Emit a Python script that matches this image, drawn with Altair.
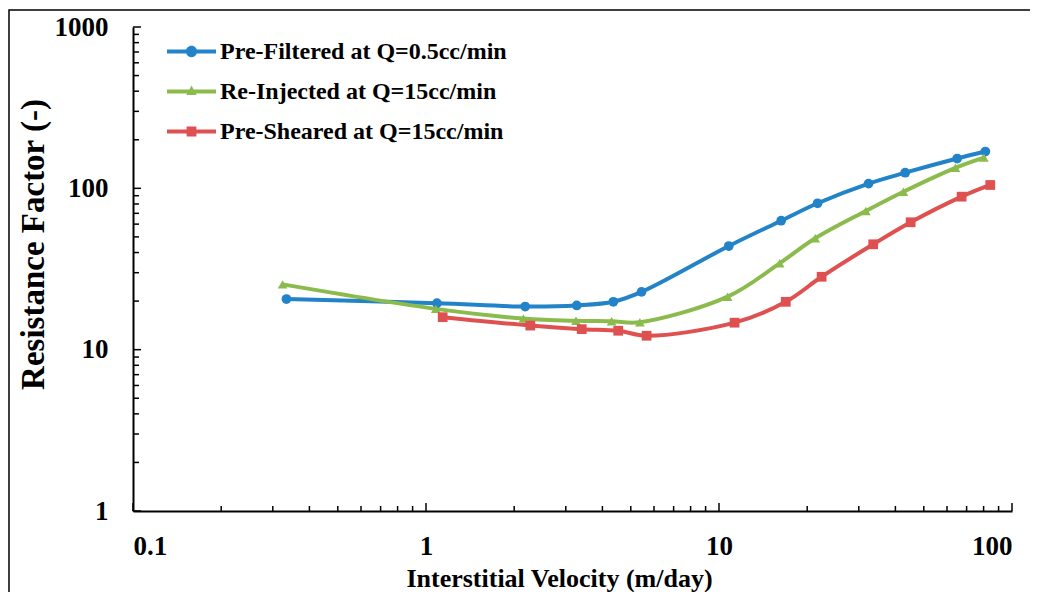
import altair as alt
import pandas as pd

# ---- data ----
series_names = ["Pre-Filtered at Q=0.5cc/min", "Re-Injected at Q=15cc/min", "Pre-Sheared at Q=15cc/min"]
series_colors = ["#2283C8", "#8CBB4D", "#DF5050"]

pf_x = [0.334, 1.09, 2.18, 3.27, 4.36, 5.44, 10.8, 16.3, 21.7, 32.4, 43.2, 65.0, 81.1]
pf_y = [20.6, 19.4, 18.5, 18.8, 19.8, 22.8, 43.9, 63.0, 80.8, 107, 125, 153, 169]

ri_x = [0.324, 1.08, 2.15, 3.25, 4.30, 5.37, 10.7, 16.1, 21.3, 31.7, 42.6, 64.1, 80.2]
ri_y = [25.4, 17.9, 15.6, 15.1, 15.0, 14.8, 21.3, 34.3, 49.0, 72.4, 95.3, 134, 155]

ps_x = [1.14, 2.27, 3.40, 4.53, 5.66, 11.3, 16.9, 22.4, 33.6, 45.1, 67.3, 84.3]
ps_y = [15.9, 14.1, 13.4, 13.1, 12.2, 14.7, 19.8, 28.3, 45.0, 61.6, 88.8, 104.9]

x_major = [0.1, 1, 10, 100]
x_minor = [m * d for d in [0.1, 1, 10] for m in range(2, 10)]
y_major = [1, 10, 100, 1000]
y_minor = [m * d for d in [1, 10, 100] for m in range(2, 10)]

# ---- tables ----
rows = []
for name, xs, ys in [(series_names[0], pf_x, pf_y), (series_names[1], ri_x, ri_y), (series_names[2], ps_x, ps_y)]:
    for i, (xv, yv) in enumerate(zip(xs, ys)):
        rows.append({"series": name, "x": xv, "y": yv, "order": i})
df = pd.DataFrame(rows)

W, H = 879, 484
FONT = "Liberation Serif"

def xscale():
    return alt.Scale(type="log", domain=[0.1, 100], nice=False, range=[0, W])

def yscale():
    return alt.Scale(type="log", domain=[1, 1000], nice=False, range=[H, 0])

def cscale():
    return alt.Scale(domain=series_names, range=series_colors)

x_axis = alt.Axis(values=x_major, format="~g", ticks=False, grid=False, domainColor="black",
                  domainWidth=2, labelFont=FONT, labelFontWeight="bold", labelFontSize=27,
                  labelColor="black", labelPadding=22, title="Interstitial Velocity (m/day)",
                  titleFont=FONT, titleFontWeight="bold", titleFontSize=26, titleColor="black",
                  titleX=426, titleY=75, titleBaseline="alphabetic", titleAlign="center")
y_axis = alt.Axis(values=y_major, format="~g", ticks=False, grid=False, domainColor="black",
                  domainWidth=2, labelFont=FONT, labelFontWeight="bold", labelFontSize=27,
                  labelColor="black", labelPadding=25, title="Resistance Factor (-)",
                  titleFont=FONT, titleFontWeight="bold", titleFontSize=33, titleColor="black",
                  titleX=-100, titleY=217, titleAngle=270, titleBaseline="middle", titleAlign="center")

frame = alt.Chart(pd.DataFrame({"a": [0]})).mark_rect(fill="transparent", stroke="black", strokeWidth=1.5).encode(
    x=alt.value(-124), x2=alt.value(950), y=alt.value(-17), y2=alt.value(640)
)

# inward tick marks drawn as short stroke symbols
def xtick_layer(vals, length):
    return alt.Chart(pd.DataFrame({"v": vals})).mark_point(
        shape="stroke", angle=90, size=length * length, filled=False, color="black", strokeWidth=1.5, opacity=1
    ).encode(
        x=alt.X("v:Q", scale=xscale(), axis=None),
        y=alt.value(H - length / 2),
    )

def ytick_layer(vals, length):
    return alt.Chart(pd.DataFrame({"v": vals})).mark_point(
        shape="stroke", size=length * length, filled=False, color="black", strokeWidth=1.5, opacity=1
    ).encode(
        y=alt.Y("v:Q", scale=yscale(), axis=None),
        x=alt.value(length / 2),
    )

base = alt.Chart(df)

lines = base.mark_line(strokeWidth=4, interpolate="catmull-rom").encode(
    x=alt.X("x:Q", scale=xscale(), axis=x_axis),
    y=alt.Y("y:Q", scale=yscale(), axis=y_axis),
    color=alt.Color("series:N", scale=cscale(), legend=None),
    order="order:Q",
)
points = base.mark_point(filled=True, opacity=1, size=95).encode(
    x=alt.X("x:Q", scale=xscale(), axis=None),
    y=alt.Y("y:Q", scale=yscale(), axis=None),
    color=alt.Color("series:N", scale=cscale(), legend=None),
    shape=alt.Shape("series:N", scale=alt.Scale(domain=series_names, range=["circle", "triangle-up", "square"]), legend=None),
)

line_part = "M -2 -0.16 L 2 -0.16 L 2 0.16 L -2 0.16 Z "
leg_shapes = [
    line_part + "M 0.46 0 A 0.46 0.46 0 1 1 -0.46 0 A 0.46 0.46 0 1 1 0.46 0 Z",
    line_part + "M 0 -0.5 L 0.42 0.28 L -0.42 0.28 Z",
    line_part + "M -0.4 -0.4 L 0.4 -0.4 L 0.4 0.4 L -0.4 0.4 Z",
]
legend_props = dict(orient="none", legendX=46, legendY=12, title=None, padding=0,
                    symbolSize=600, symbolStrokeWidth=0, symbolOpacity=1,
                    labelFont=FONT, labelFontWeight="bold", labelFontSize=24, labelColor="black",
                    labelOffset=16, rowPadding=15, labelLimit=400)
legend_layer = base.mark_point(filled=True, size=0).encode(
    x=alt.X("x:Q", scale=xscale(), axis=None),
    y=alt.Y("y:Q", scale=yscale(), axis=None),
    color=alt.Color("series:N", scale=cscale(), legend=alt.Legend(**legend_props)),
    shape=alt.Shape("series:N", scale=alt.Scale(domain=series_names, range=leg_shapes),
                    legend=alt.Legend(**legend_props)),
)

chart = alt.layer(
    frame, xtick_layer(x_major, 8), xtick_layer(x_minor, 5), ytick_layer(y_major, 8),
    ytick_layer(y_minor, 6), lines, points, legend_layer
).resolve_scale(
    x="independent", y="independent", color="independent", shape="independent"
).properties(
    width=W, height=H,
    autosize=alt.AutoSizeParams(type="none"),
    padding={"left": 125, "top": 19, "right": 18, "bottom": 81},
).configure_view(strokeWidth=0, stroke="transparent")

chart.save("out.html", embed_options={"renderer": "svg", "actions": False})
